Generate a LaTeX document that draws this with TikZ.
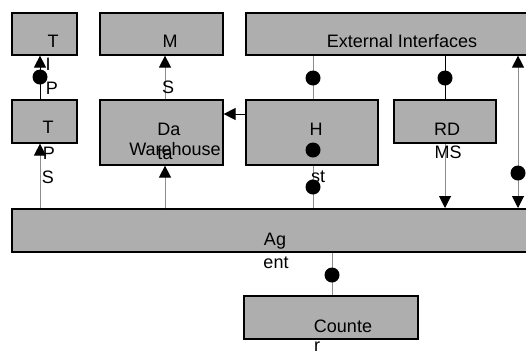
\documentclass[tikz,border=0pt]{standalone}
\usepackage{fontspec}
\setmainfont{Liberation Sans}
\usetikzlibrary{arrows.meta}
\definecolor{boxfill}{RGB}{174,174,174}
\definecolor{wire}{RGB}{140,140,140}
\begin{document}
\begin{tikzpicture}[x=1pt,y=-1pt,
  box/.style={draw=black,line width=1.6pt,fill=boxfill,anchor=north west,inner sep=0pt},
  lbl/.style={anchor=base,inner sep=0pt,font=\fontsize{18}{20}\selectfont},
  dot/.style={circle,fill=black,inner sep=0pt,minimum size=15pt},
  gwire/.style={draw=wire,line width=1pt},
  bwire/.style={draw=black,line width=1pt},
  tip/.style={-{Triangle[length=12pt,width=12pt,color=black]}},
  tips/.style={{Triangle[length=12pt,width=12pt,color=black]}-{Triangle[length=12pt,width=12pt,color=black]}}]
\useasboundingbox (0,0) rectangle (526,354);
\clip (0,0) rectangle (526,354);

% column positions of the vertical connectors
\coordinate (cA) at (40,0);
\coordinate (cB) at (165,0);
\coordinate (cC) at (313,0);
\coordinate (cD) at (445,0);
\coordinate (cE) at (518,0);
\coordinate (cF) at (332,0);
\coordinate (rH) at (0,114);

% boxes
\node[box,minimum width=65pt,minimum height=42pt] (ti) at (11,12) {};
\node[box,minimum width=123pt,minimum height=42pt] (m) at (99,12) {};
\node[box,minimum width=295pt,minimum height=42pt] (ext) at (245,12) {};
\node[box,minimum width=65pt,minimum height=43pt] (tp) at (11,99) {};
\node[box,minimum width=123pt,minimum height=65pt] (dw) at (99,99) {};
\node[box,minimum width=132pt,minimum height=65pt] (h) at (245,99) {};
\node[box,minimum width=102pt,minimum height=43pt] (rd) at (393,99) {};
\node[box,minimum width=530pt,minimum height=43pt] (agent) at (11,208) {};
\node[box,minimum width=174pt,minimum height=43pt] (counter) at (243,295) {};

% connectors
\draw[bwire,tip] (tp.north -| cA) -- (ti.south -| cA);
\draw[gwire,tip] (agent.north -| cA) -- (tp.south -| cA);
\draw[gwire,tip] (dw.north -| cB) -- (m.south -| cB);
\draw[gwire,tip] (agent.north -| cB) -- (dw.south -| cB);
\draw[bwire,tip] (h.west |- rH) -- (dw.east |- rH);
\draw[gwire] (ext.south -| cC) -- (h.north -| cC);
\draw[gwire] (h.south -| cC) -- (agent.north -| cC);
\draw[bwire] (ext.south -| cD) -- (rd.north -| cD);
\draw[gwire,tip] (rd.south -| cD) -- (agent.north -| cD);
\draw[gwire,tips] (ext.south -| cE) -- (agent.north -| cE);
\draw[gwire] (agent.south -| cF) -- (counter.north -| cF);

% connector dots
\node[dot] (d1) at (40,77) {};
\node[dot] (d2) at (313,78) {};
\node[dot] (d3) at (445,78) {};
\node[dot] (d4) at (313,150) {};
\node[dot] (d5) at (313,187) {};
\node[dot] (d6) at (518,173) {};
\node[dot] (d7) at (332,275) {};

% texts
\node[lbl] (t1) at (53,47) {T};
\node[lbl] (t2) at (170,47) {M};
\node[lbl] (t3) at (402,47) {External Interfaces};
\node[lbl] (t4) at (48,70) {I};
\node[lbl] (t5) at (52,94) {P};
\node[lbl] (t6) at (168,93) {S};
\node[lbl] (t7) at (48,133) {T};
\node[lbl] (t8) at (49,159) {P};
\node[lbl] (t9) at (48,183) {S};
\node[lbl] (t10) at (169,135) {Da};
\node[lbl] (t11) at (175,155) {Warehouse};
\node[lbl] (t12) at (165,159) {ta};
\node[lbl] (t13) at (316,135) {H};
\node[lbl] (t14) at (318,182) {st};
\node[lbl] (t15) at (447,135) {RD};
\node[lbl] (t16) at (448,158) {MS};
\node[lbl] (t17) at (275,245) {Ag};
\node[lbl] (t18) at (276,268) {ent};
\node[lbl] (t19) at (343,332) {Counte};
\node[lbl] (t20) at (317,351) {r};
\end{tikzpicture}
\end{document}
